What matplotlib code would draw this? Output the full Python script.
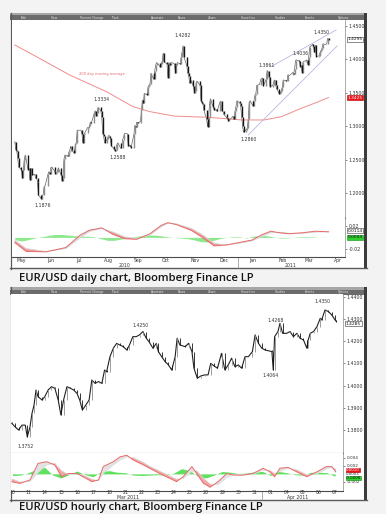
import matplotlib
matplotlib.use("Agg")
import matplotlib.pyplot as plt
import matplotlib.dates as mdates
import matplotlib.transforms as mtransforms
from matplotlib.patches import Rectangle
import numpy as np
import pandas as pd

# ---------------- DAILY CHART DATA (EUR/USD daily closes) ----------------
close_may = [1.2770, 1.2650, 1.2630, 1.2530, 1.2390, 1.2350, 1.2220, 1.2340, 1.2500, 1.2570,
             1.2350, 1.2370, 1.2200, 1.2370, 1.2270, 1.2280]
close_jun = [1.2220, 1.2230, 1.2170, 1.1970, 1.1920, 1.1970, 1.1980, 1.2100, 1.2110, 1.2280,
             1.2320, 1.2290, 1.2380, 1.2390, 1.2330, 1.2290, 1.2300, 1.2320, 1.2380, 1.2270,
             1.2180, 1.2230]
close_jul = [1.2510, 1.2570, 1.2550, 1.2610, 1.2630, 1.2700, 1.2640, 1.2600, 1.2730, 1.2750,
             1.2940, 1.2940, 1.2940, 1.2890, 1.2750, 1.2880, 1.2900, 1.2980, 1.2970, 1.3000,
             1.3060, 1.3050]
close_aug = [1.3190, 1.3230, 1.3150, 1.3190, 1.3280, 1.3230, 1.3130, 1.2890, 1.2850, 1.2750,
             1.2810, 1.2860, 1.2860, 1.2820, 1.2710, 1.2660, 1.2630, 1.2650, 1.2730, 1.2750,
             1.2670, 1.2680]
close_sep = [1.2800, 1.2830, 1.2890, 1.2890, 1.2700, 1.2720, 1.2710, 1.2680, 1.2880, 1.3010,
             1.2990, 1.3060, 1.3050, 1.3070, 1.3240, 1.3390, 1.3340, 1.3490, 1.3470, 1.3590,
             1.3610, 1.3630]
close_oct = [1.3790, 1.3700, 1.3820, 1.3910, 1.3950, 1.3940, 1.3880, 1.3930, 1.3970, 1.4090,
             1.3960, 1.3930, 1.3720, 1.3950, 1.3920, 1.3950, 1.3940, 1.3920, 1.3790, 1.3910,
             1.3950]
close_nov = [1.3930, 1.4030, 1.4110, 1.4200, 1.4030, 1.3900, 1.3790, 1.3750, 1.3640, 1.3690,
             1.3600, 1.3500, 1.3530, 1.3660, 1.3670, 1.3610, 1.3380, 1.3350, 1.3330, 1.3240,
             1.3100, 1.2990]
close_dec = [1.3140, 1.3320, 1.3410, 1.3280, 1.3240, 1.3240, 1.3250, 1.3220, 1.3360, 1.3370,
             1.3230, 1.3230, 1.3180, 1.3130, 1.3120, 1.3080, 1.3110, 1.3100, 1.3150, 1.3100,
             1.3230, 1.3290, 1.3380]
close_jan = [1.3350, 1.3300, 1.3140, 1.3000, 1.2910, 1.2950, 1.2970, 1.3100, 1.3360, 1.3380,
             1.3300, 1.3380, 1.3460, 1.3480, 1.3610, 1.3620, 1.3690, 1.3710, 1.3720, 1.3600,
             1.3700]
close_feb = [1.3830, 1.3820, 1.3730, 1.3590, 1.3610, 1.3670, 1.3690, 1.3610, 1.3560, 1.3480,
             1.3500, 1.3530, 1.3580, 1.3690, 1.3680, 1.3670, 1.3770, 1.3760, 1.3760, 1.3800]
close_mar = [1.3780, 1.3850, 1.3980, 1.3990, 1.3970, 1.3890, 1.3910, 1.3800, 1.3960, 1.3980,
             1.3990, 1.3920, 1.4030, 1.4180, 1.4220, 1.4200, 1.4100, 1.4210, 1.4040, 1.4050,
             1.4100, 1.4130, 1.4160]
close_apr = [1.4230, 1.4220, 1.4230, 1.4310, 1.4290]
first_open = 1.2755

ma_dates = ["2010-05-10", "2010-06-05", "2010-07-07", "2010-08-15", "2010-09-12", "2010-09-30",
            "2010-10-26", "2010-11-30", "2011-01-05", "2011-01-29", "2011-02-16", "2011-03-09",
            "2011-03-23", "2011-04-07"]
ma_vals = [1.4212, 1.4013, 1.3764, 1.3515, 1.3291, 1.3217, 1.3150, 1.3133, 1.3093, 1.3093,
           1.3142, 1.3267, 1.3342, 1.3428]

trend_up_dates = ["2011-02-05", "2011-04-15"]
trend_up_vals = [1.3888, 1.4436]
trend_lo_dates = ["2011-01-12", "2011-04-16"]
trend_lo_vals = [1.2869, 1.4197]

d_ann_dates = ["2010-06-07", "2010-08-06", "2010-08-24", "2010-11-04", "2011-01-10",
               "2011-02-02", "2011-03-07", "2011-04-06"]
d_ann_vals = [1.1876, 1.3334, 1.2588, 1.4282, 1.2860, 1.3861, 1.4036, 1.4350]

dm_dates = ["2010-05-10", "2010-05-22", "2010-06-12", "2010-07-03", "2010-07-18", "2010-07-28",
            "2010-08-10", "2010-08-22", "2010-09-03", "2010-09-16", "2010-09-30", "2010-10-12",
            "2010-10-19", "2010-10-28", "2010-11-13", "2010-11-25", "2010-12-07", "2010-12-20",
            "2011-01-02", "2011-01-16", "2011-01-27", "2011-02-05", "2011-02-14", "2011-02-24",
            "2011-03-10", "2011-03-24", "2011-04-07"]
dm_macd = [-0.0088, -0.0238, -0.0245, -0.0172, 0.0038, 0.0122, 0.0162, 0.0050, -0.0022, -0.0033,
           0.0062, 0.0205, 0.0250, 0.0217, 0.0117, -0.0005, -0.0145, -0.0128, -0.0088, -0.0045,
           0.0050, 0.0105, 0.0078, 0.0062, 0.0078, 0.0105, 0.0095]
dm_signal = [-0.0050, -0.0190, -0.0240, -0.0190, -0.0010, 0.0100, 0.0150, 0.0090, 0.0010, -0.0020,
             0.0040, 0.0180, 0.0240, 0.0230, 0.0150, 0.0040, -0.0100, -0.0130, -0.0100, -0.0060,
             0.0020, 0.0080, 0.0090, 0.0070, 0.0070, 0.0090, 0.0095]
dh_start = "2010-05-10"   # weekly histogram values
dh_vals = [-0.004, -0.006, -0.004, -0.001, 0.001, 0.003, 0.005, 0.005, 0.004, 0.003,
           0.002, 0.002, 0.001, -0.002, -0.005, -0.005, -0.003, -0.001, 0.001, 0.003,
           0.004, 0.004, 0.003, 0.001, 0.000, -0.001, -0.002, -0.004, -0.007, -0.008,
           -0.005, -0.002, 0.000, 0.001, 0.001, -0.001, 0.002, 0.003, 0.003, 0.001,
           -0.001, -0.001, 0.000, 0.001, 0.001, 0.001, 0.000, 0.0004]

d_months = ["May", "Jun", "Jul", "Aug", "Sep", "Oct", "Nov", "Dec", "Jan", "Feb", "Mar", "Apr"]
d_yticks = [1.20, 1.25, 1.30, 1.35, 1.40, 1.45]

# ---------------- HOURLY CHART DATA ----------------
h_days = ["03-10", "03-11", "03-14", "03-15", "03-16", "03-17", "03-18", "03-21", "03-22",
          "03-23", "03-24", "03-25", "03-28", "03-29", "03-30", "03-31", "04-01", "04-04",
          "04-05", "04-06", "04-07"]
h_day_labels = ["10", "11", "14", "15", "16", "17", "18", "21", "22", "23", "24", "25", "28",
                "29", "30", "31", "01", "04", "05", "06", "07"]
h_time = ["03-10 11", "03-10 16", "03-10 21", "03-11 02", "03-11 07", "03-11 10", "03-11 14",
          "03-11 17", "03-11 20", "03-11 23",
          "03-14 02", "03-14 08", "03-14 12", "03-14 17", "03-14 22",
          "03-15 03", "03-15 08", "03-15 12", "03-15 16", "03-15 21",
          "03-16 02", "03-16 07", "03-16 12", "03-16 16", "03-16 20",
          "03-17 01", "03-17 06", "03-17 10", "03-17 15", "03-17 20",
          "03-18 01", "03-18 05", "03-18 08", "03-18 13", "03-18 18", "03-18 23",
          "03-21 04", "03-21 09", "03-21 14", "03-21 18", "03-21 23",
          "03-22 04", "03-22 09", "03-22 14", "03-22 19", "03-22 23",
          "03-23 05", "03-23 10", "03-23 13", "03-23 18", "03-23 23",
          "03-24 04", "03-24 09", "03-24 14", "03-24 17", "03-24 21",
          "03-25 05", "03-25 10", "03-25 15", "03-25 18", "03-25 23",
          "03-28 04", "03-28 10", "03-28 15", "03-28 19",
          "03-29 00", "03-29 05", "03-29 11", "03-29 16", "03-29 21",
          "03-30 02", "03-30 07", "03-30 12", "03-30 17", "03-30 22",
          "03-31 03", "03-31 09", "03-31 13", "03-31 18", "03-31 23",
          "04-01 04", "04-01 14", "04-01 16", "04-01 18", "04-01 23",
          "04-04 02", "04-04 06", "04-04 12", "04-04 17", "04-04 22",
          "04-05 03", "04-05 08", "04-05 13", "04-05 18", "04-05 20", "04-05 23",
          "04-06 04", "04-06 09", "04-06 14", "04-06 16", "04-06 21",
          "04-07 02", "04-07 07", "04-07 12", "04-07 14"]
h_close = [1.3830, 1.3814, 1.3800, 1.3822, 1.3822, 1.3769, 1.3814, 1.3875, 1.3912, 1.3980,
           1.3950, 1.3935, 1.3950, 1.3980, 1.3995,
           1.3988, 1.3935, 1.3868, 1.3935, 1.3995,
           1.3988, 1.3980, 1.3965, 1.3935, 1.3890,
           1.3912, 1.3935, 1.4025, 1.4010, 1.4018,
           1.4010, 1.4070, 1.4062, 1.4130, 1.4168, 1.4190,
           1.4182, 1.4175, 1.4160, 1.4182, 1.4220,
           1.4220, 1.4228, 1.4243, 1.4213, 1.4198,
           1.4168, 1.4190, 1.4153, 1.4130, 1.4108,
           1.4093, 1.4070, 1.4130, 1.4213, 1.4183,
           1.4175, 1.4190, 1.4153, 1.4078, 1.4033,
           1.4043, 1.4048, 1.4048, 1.4100,
           1.4088, 1.4078, 1.4145, 1.4070, 1.4093,
           1.4123, 1.4085, 1.4093, 1.4078, 1.4130,
           1.4130, 1.4153, 1.4228, 1.4190, 1.4168,
           1.4160, 1.4153, 1.4070, 1.4220, 1.4243,
           1.4280, 1.4235, 1.4235, 1.4243, 1.4220,
           1.4235, 1.4213, 1.4205, 1.4168, 1.4205, 1.4235,
           1.4243, 1.4265, 1.4303, 1.4295, 1.4340,
           1.4333, 1.4318, 1.4295, 1.4288]
h_first_open = 1.3835

hm_time = ["03-10 11", "03-10 23", "03-11 14", "03-14 02", "03-14 15", "03-15 03", "03-15 13",
           "03-15 23", "03-16 12", "03-16 21", "03-17 10", "03-17 20", "03-18 03", "03-18 18",
           "03-21 04", "03-21 14", "03-22 00", "03-22 15", "03-23 00", "03-23 15", "03-24 01",
           "03-24 16", "03-25 02", "03-25 15", "03-25 22", "03-28 08", "03-28 18", "03-29 06",
           "03-29 19", "03-30 05", "03-30 19", "03-31 10", "04-01 01", "04-01 11", "04-01 18",
           "04-04 02", "04-04 14", "04-05 03", "04-05 18", "04-06 09", "04-06 23", "04-07 07",
           "04-07 13"]
hm_macd = [-0.00195, -0.00235, -0.0015, 0.0026, 0.0030, 0.0022, -0.0007, 0.0001, 0.0001,
           -0.0007, -0.0019, -0.0015, 0.0018, 0.0030, 0.0042, 0.0046, 0.0034, 0.0022, 0.0014,
           0.0001, -0.0007, -0.0019, -0.0007, 0.0018, 0.0001, -0.0023, -0.0033, -0.0019,
           0.0001, -0.0003, -0.0003, 0.0001, 0.0014, 0.0005, -0.0007, 0.0014, 0.0016, 0.0005,
           -0.0007, 0.0005, 0.0018, 0.0018, 0.0005]
hm_signal = [-0.0012, -0.0020, -0.0019, 0.0003, 0.0022, 0.0026, 0.0008, -0.0002, 0.0000,
             -0.0003, -0.0013, -0.0017, 0.0001, 0.0022, 0.0034, 0.0042, 0.0040, 0.0028, 0.0019,
             0.0007, -0.0001, -0.0013, -0.0012, 0.0006, 0.0008, -0.0010, -0.0025, -0.0027,
             -0.0009, -0.0002, -0.0003, -0.0001, 0.0009, 0.0009, 0.0001, 0.0006, 0.0014,
             0.0010, -0.0002, 0.0000, 0.0012, 0.0016, 0.0012]
hh_vals = [-0.0004, -0.0003, 0.0003, 0.0012, 0.0016, -0.0003, -0.0010, -0.0002, 0.0007, -0.0002,
           -0.0007, 0.0006, 0.0008, 0.0004, 0.0003, -0.0003, -0.0004, -0.0003, -0.0002, -0.0003,
           0.0002, 0.0013, 0.0008, -0.0006, -0.0010, -0.0003, 0.0006, 0.0004, 0.0001, 0.0002,
           0.0005, 0.0006, -0.0004, 0.0006, 0.0003, -0.0002, -0.0003, 0.0004, 0.0004, 0.0003,
           -0.0006]   # every 12 hours from 03-10 12h

h_ann_time = ["03-11 10", "03-22 14", "04-01 16", "04-01 23", "04-06 21"]
h_ann_vals = [1.3752, 1.4250, 1.4064, 1.4268, 1.4350]
h_yticks = [1.38, 1.39, 1.40, 1.41, 1.42, 1.43, 1.44]

# ---------------- FIGURE ----------------
W, H = 386, 514
fig = plt.figure(figsize=(W / 100, H / 100), dpi=100)
fig.patch.set_facecolor("#f3f3f3")

deco = fig.add_axes([0, 0, 1, 1])
deco.set_xlim(0, W)
deco.set_ylim(H, 0)
deco.axis("off")


def ax_px(x0, y0, x1, y1):
    return fig.add_axes([x0 / W, 1 - y1 / H, (x1 - x0) / W, (y1 - y0) / H])


tool_items = ["Edit", "View", "Percent Change", "Track", "Annotate", "News", "Zoom",
              "Securities", "Studies", "Events", "Options"]
tool_x = [21, 51, 80, 111, 151, 178, 208, 241, 275, 305, 338]


def draw_panel(top, bottom):
    deco.add_patch(Rectangle((10, top), 357, bottom - top, fc="white", ec="none"))
    deco.add_patch(Rectangle((10, top), 357, 2.8, fc="#a6a6a6", ec="none"))
    deco.add_patch(Rectangle((10, top + 2.8), 357, 4.6, fc="#6b6b6b", ec="none"))
    for s, x in zip(tool_items, tool_x):
        deco.text(x, top + 5.1, s, fontsize=2.2, color="#e6e6e6", va="center", ha="left")
    deco.plot([10.5, 10.5], [top, bottom], color="#5a5a5a", lw=0.9)
    deco.add_patch(Rectangle((364.3, top), 3, bottom - top, fc="#3c3c3c", ec="none"))
    deco.plot([10, 367.3], [bottom - 0.5, bottom - 0.5], color="#5a5a5a", lw=1.0)


draw_panel(12.5, 268.5)
draw_panel(287.3, 500.5)


def style_axes(a):
    a.set_facecolor("white")
    for s in ("left", "top"):
        a.spines[s].set_visible(False)
    a.spines["right"].set_color("#8a8a8a")
    a.spines["right"].set_linewidth(0.5)
    a.spines["bottom"].set_color("#4a4a4a")
    a.spines["bottom"].set_linewidth(0.8)
    a.yaxis.tick_right()
    a.tick_params(axis="y", length=1.6, width=0.4, labelsize=3.4, pad=0.8,
                  colors="#333333")
    a.tick_params(axis="x", length=0, labelbottom=False)


def value_box(a, y, txt, fc, tc, ec, size=3.2, pad=0.12):
    tr = mtransforms.blended_transform_factory(a.transAxes, a.transData)
    a.text(1.008, y, txt, transform=tr, fontsize=size, va="center", ha="left", color=tc,
           clip_on=False, zorder=6,
           bbox=dict(boxstyle=f"square,pad={pad}", fc=fc, ec=ec, lw=0.4))


def candles(a, x, opens, closes, width, line_color, line_w):
    opens = np.asarray(opens)
    closes = np.asarray(closes)
    up = closes >= opens
    a.plot(x, closes, color=line_color, lw=line_w, zorder=2)
    a.vlines(x[up], opens[up], closes[up], colors="#8d8d8d", lw=width, zorder=3)
    a.vlines(x[~up], closes[~up], opens[~up], colors="#151515", lw=width, zorder=3)


# ---------------- DAILY ----------------
d_close = np.array(close_may + close_jun + close_jul + close_aug + close_sep + close_oct +
                   close_nov + close_dec + close_jan + close_feb + close_mar + close_apr)
d_dates = pd.bdate_range("2010-05-10", "2011-04-07")
n = min(len(d_dates), len(d_close))
d_x = mdates.date2num(d_dates[:n])
d_close = d_close[:n]
d_open = np.r_[first_open, d_close[:-1]]

axd = ax_px(12, 20, 345, 217.5)
axdm = ax_px(12, 217.5, 345, 257.3)
for a in (axd, axdm):
    style_axes(a)
x0d = mdates.date2num(pd.Timestamp("2010-05-07"))
x1d = x0d + 333 / 0.945
axd.set_xlim(x0d, x1d)
axdm.set_xlim(x0d, x1d)
axd.set_ylim(1.1637, 1.4585)
axdm.set_ylim(-0.0338, 0.0338)

candles(axd, d_x, d_open, d_close, 1.0, "#555555", 0.45)
axd.plot(mdates.date2num(pd.to_datetime(ma_dates)), ma_vals, color="#f08c8c", lw=0.7, zorder=2)
axd.plot(mdates.date2num(pd.to_datetime(trend_up_dates)), trend_up_vals, color="#aeb0e0",
         lw=0.55, zorder=4)
axd.plot(mdates.date2num(pd.to_datetime(trend_lo_dates)), trend_lo_vals, color="#aeb0e0",
         lw=0.55, zorder=4)
axd.text(mdates.date2num(pd.Timestamp("2010-08-10")), 1.3775, "200 day moving average",
         fontsize=2.6, color="#e06a6a", ha="center", va="center")
d_ann_off = [(1, 4.5), (3, -4.8), (2.5, 4), (0, -4.6), (2, 3.7), (-1.5, -3.5), (1.5, -2.8),
             (-6, -3.4)]
for dte, v, (dx, dy) in zip(d_ann_dates, d_ann_vals, d_ann_off):
    axd.annotate(f"{v:.4f}", (mdates.date2num(pd.Timestamp(dte)), v),
                 xytext=(dx * 0.72, -dy * 0.72), textcoords="offset points",
                 ha="center", va="center", fontsize=3.3, color="#333333", zorder=5)
axd.set_yticks(d_yticks)
axd.set_yticklabels([f"{v:.4f}" for v in d_yticks])
value_box(axd, 1.4295, "1.4295", "white", "#111111", "#333333")
value_box(axd, 1.3425, "1.3425", "#e8161b", "white", "#b00000")

# daily MACD
dm_x = mdates.date2num(pd.to_datetime(dm_dates))
dm_m = np.array(dm_macd)
dm_s = np.array(dm_signal)
dh_x = mdates.date2num(pd.date_range(dh_start, periods=len(dh_vals), freq="7D"))
axdm.fill_between(dh_x, 0, dh_vals, color="#8ee88e", lw=0, interpolate=True, zorder=1)
axdm.fill_between(dm_x, dm_m, dm_s, where=dm_m <= dm_s, color="#f19a9a", lw=0,
                  interpolate=True, zorder=2)
axdm.fill_between(dm_x, dm_m, dm_s, where=dm_m > dm_s, color="#dcdcdc", lw=0,
                  interpolate=True, zorder=2)
axdm.plot(dm_x, dm_s, color="#d6d6d6", lw=0.6, zorder=3)
axdm.plot(dm_x, dm_m, color="#e76a6a", lw=0.7, zorder=4)
axdm.set_yticks([0.02, -0.02])
axdm.set_yticklabels(["0.02", "-0.02"])
value_box(axdm, 0.0114, "0.0114", "white", "#111111", "#333333")
value_box(axdm, 0.0004, "0.0004", "#2fd12f", "#111111", "#118811")

trd = mtransforms.blended_transform_factory(axdm.transData, axdm.transAxes)
mpos = pd.date_range("2010-05-01", periods=12, freq="MS") + pd.Timedelta(days=16)
for m, p in zip(d_months, mdates.date2num(mpos)):
    axdm.text(p, -0.085, m, transform=trd, fontsize=3.3, color="#333333", ha="center",
              va="center", clip_on=False)
axdm.text(mdates.date2num(pd.Timestamp("2010-09-03")), -0.215, "2010", transform=trd,
          fontsize=3.3, color="#333333", ha="center", va="center", clip_on=False)
axdm.text(mdates.date2num(pd.Timestamp("2011-02-26")), -0.215, "2011", transform=trd,
          fontsize=3.3, color="#333333", ha="center", va="center", clip_on=False)
jan1 = mdates.date2num(pd.Timestamp("2011-01-01"))
axdm.plot([jan1, jan1], [0, -0.27], transform=trd, color="#8a8a8a", lw=0.5, clip_on=False)

# ---------------- HOURLY ----------------
def t_of(s):
    d, h = s.split()
    return h_days.index(d) + int(h) / 24.0


h_x = np.array([t_of(s) for s in h_time])
h_c = np.array(h_close)
h_o = np.r_[h_first_open, h_c[:-1]]

axh = ax_px(11, 294, 343.3, 452.7)
axhm = ax_px(11, 452.7, 343.3, 490.7)
for a in (axh, axhm):
    style_axes(a)
    a.set_xlim(0.407, 21.01)
axh.set_ylim(1.3698, 1.4412)
axhm.set_ylim(-0.00415, 0.00523)

candles(axh, h_x, h_o, h_c, 0.6, "#222222", 0.8)
h_ann_off = [(-1.5, 5.4), (-2.5, -5), (-2.3, 3.7), (-2, -6), (-3, -6)]
for tm, v, (dx, dy) in zip(h_ann_time, h_ann_vals, h_ann_off):
    axh.annotate(f"{v:.4f}", (t_of(tm), v), xytext=(dx * 0.72, -dy * 0.72),
                 textcoords="offset points", ha="center", va="center", fontsize=3.3,
                 color="#333333", zorder=5)
axh.set_yticks(h_yticks)
axh.set_yticklabels([f"{v:.4f}" for v in h_yticks])
value_box(axh, 1.4278, "1.4285", "white", "#111111", "#333333")

hm_x = np.array([t_of(s) for s in hm_time])
hm_m = np.array(hm_macd)
hm_s = np.array(hm_signal)
hh_x = np.arange(len(hh_vals)) * 0.5 + 0.5
axhm.fill_between(hh_x, 0, hh_vals, color="#5fe05f", lw=0, interpolate=True, zorder=1)
axhm.fill_between(hm_x, hm_m, hm_s, where=hm_m <= hm_s, color="#f3a6a6", lw=0,
                  interpolate=True, zorder=2)
axhm.fill_between(hm_x, hm_m, hm_s, where=hm_m > hm_s, color="#e2e2e2", lw=0,
                  interpolate=True, zorder=2)
axhm.plot(hm_x, hm_s, color="#dadada", lw=0.5, zorder=3)
axhm.plot(hm_x, hm_m, color="#e76a6a", lw=0.7, zorder=4)
axhm.set_yticks([0.004, 0.002, -0.002])
axhm.set_yticklabels(["0.004", "0.002", "-0.002"])
axhm.tick_params(axis="y", labelsize=3.1)
value_box(axhm, 0.00092, "0.0010", "#e8161b", "white", "#b00000", size=2.8, pad=0.06)
trh_y = mtransforms.blended_transform_factory(axhm.transAxes, axhm.transData)
axhm.text(1.008, -0.00003, "0.0003", transform=trh_y, fontsize=2.8, va="center", ha="left",
          color="#222222", clip_on=False, zorder=5)
value_box(axhm, -0.00098, "-0.0008", "#2fd12f", "#111111", "#118811", size=2.8, pad=0.06)

trh = mtransforms.blended_transform_factory(axhm.transData, axhm.transAxes)
clipbox = mtransforms.TransformedBbox(mtransforms.Bbox.from_extents(11 / W, 0, 1, 1),
                                      fig.transFigure)
for k, lab in enumerate(h_day_labels):
    t = fig.text(k + 0.5, -0.045, lab, transform=trh, fontsize=3.3, color="#333333",
                 ha="center", va="center")
    t.set_clip_box(clipbox)
    t.set_clip_on(True)
fig.text(7.66, -0.175, "Mar 2011", transform=trh, fontsize=3.3, color="#333333",
         ha="center", va="center")
fig.text(18.2, -0.175, "Apr 2011", transform=trh, fontsize=3.3, color="#333333",
         ha="center", va="center")
axhm.plot([16.0, 16.0], [0, -0.245], transform=trh, color="#8a8a8a", lw=0.5, clip_on=False)

# ---------------- CAPTIONS ----------------
fig.text(19 / W, 1 - 278 / H, "EUR/USD daily chart, Bloomberg Finance LP", fontsize=8.15,
         family="Open Sans", weight="semibold", color="#141414", va="center", ha="left")
fig.text(19 / W, 1 - 507.7 / H, "EUR/USD hourly chart, Bloomberg Finance LP", fontsize=8.15,
         family="Open Sans", weight="semibold", color="#141414", va="center", ha="left")

fig.savefig("out.png", dpi=100, facecolor=fig.get_facecolor())
